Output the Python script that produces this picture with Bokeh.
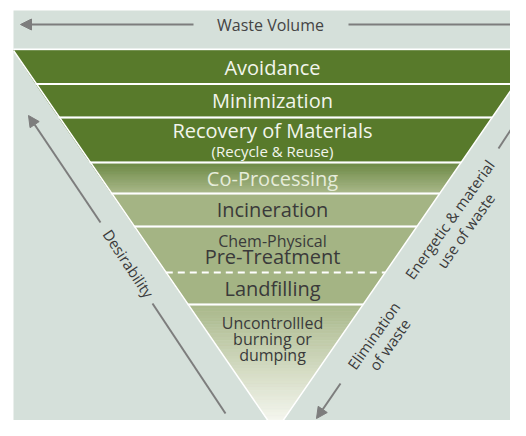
import numpy as np
from bokeh.plotting import figure
from bokeh.models import Range1d, Arrow, NormalHead
from bokeh.core.properties import value
from bokeh.embed import file_html
from bokeh.resources import INLINE

# ---- data ----
band_names = ["Avoidance", "Minimization", "Recovery of Materials", "Co-Processing",
              "Incineration", "Chem-Physical Pre-Treatment", "Landfilling",
              "Uncontrollled burning or dumping"]
band_top = [50, 84, 118, 163, 194, 227, 272, 305]
band_bottom = [83, 116, 161, 192, 225, 272, 303, 431]
band_color_top = ["#587a2b", "#587a2b", "#587a2b", "#6c8943", "#a4b484", "#a4b484", "#a4b484", "#a9b88a"]
band_color_bottom = ["#587a2b", "#587a2b", "#587a2b", "#a7b687", "#a4b484", "#a4b484", "#a4b484", "#fcfcf8"]

label_text = ["Avoidance", "Minimization", "Recovery of Materials", "(Recycle & Reuse)",
              "Co-Processing", "Incineration", "Chem-Physical", "Pre-Treatment",
              "Landfilling", "Uncontrollled", "burning or", "dumping"]
label_y = [67, 100, 130, 150, 178, 209, 240, 256, 288, 322, 338, 354]
label_size = ["20px", "20px", "20px", "15px", "20px", "20px", "16px", "20px", "20px", "16px", "16px", "16px"]
label_color = ["#f2f5ec", "#f2f5ec", "#f2f5ec", "#f2f5ec", "#e6ecda", "#3a3a3a", "#3a3a3a",
               "#3a3a3a", "#3a3a3a", "#3a3a3a", "#3a3a3a", "#3a3a3a"]

APEX_X, APEX_Y, K = 275.0, 431.0, 0.69
BG = "#d5e0da"
CX = 272


def lx(y):
    return max(13.0, APEX_X - (APEX_Y - y) * K)


def rx(y):
    return APEX_X + (APEX_Y - y) * K


def hex2rgb(h):
    h = h.lstrip("#")
    return np.array([int(h[i:i + 2], 16) for i in (0, 2, 4)], dtype=float)


def rgb2hex(c):
    return "#%02x%02x%02x" % tuple(int(round(v)) for v in c)


p = figure(width=510, height=420, output_backend="svg", toolbar_location=None,
           x_range=Range1d(0, 510), y_range=Range1d(420, 0),
           min_border=0, outline_line_color=None, background_fill_color="white",
           border_fill_color="white")
p.axis.visible = False
p.grid.visible = False

# background panel
p.quad(left=[13], right=[540], top=[10], bottom=[450], fill_color=BG, line_color=None)
# white rule under the header
p.line(x=[13, 540], y=[49, 49], line_color="white", line_width=2)

# bands (gradients as thin strips)
xs, ys, cols = [], [], []
for t, b, ct, cb in zip(band_top, band_bottom, band_color_top, band_color_bottom):
    n = 1 if ct == cb else 40
    c0, c1 = hex2rgb(ct), hex2rgb(cb)
    edges = np.linspace(t, b, n + 1)
    for i in range(n):
        y0, y1 = edges[i], edges[i + 1]
        xs.append([lx(y0), rx(y0), rx(y1), lx(y1)])
        ys.append([y0, y0, y1, y1])
        f = (i + 0.5) / n
        cols.append(rgb2hex(c0 + (c1 - c0) * f))
p.patches(xs=xs, ys=ys, fill_color=cols, line_color=cols, line_width=0.6)

# triangle edges (white rim)
p.line(x=[lx(50), APEX_X, rx(50)], y=[50, APEX_Y, 50], line_color="white", line_width=1.5)

# separators
for i in range(len(band_top) - 1):
    if band_bottom[i] == band_top[i + 1]:
        ysep = band_bottom[i]
        p.line(x=[lx(ysep), rx(ysep)], y=[ysep, ysep], line_color="white",
               line_width=2, line_dash="7 5")
    else:
        ysep = (band_bottom[i] + band_top[i + 1]) / 2
        p.line(x=[lx(ysep), rx(ysep)], y=[ysep, ysep], line_color="white", line_width=2.2)

# band labels
FONT = value("Open Sans")
for txt, y, s, c in zip(label_text, label_y, label_size, label_color):
    p.text(x=[CX], y=[y], text=[txt], text_font=FONT, text_font_size=s, text_color=c,
           text_align="center", text_baseline="middle")

# header
p.text(x=[270], y=[24], text=["Waste Volume"], text_font=FONT, text_font_size="16px",
       text_color="#444444", text_align="center", text_baseline="middle")

GRAY = "#7d7d7d"


def arrow(x0, y0, x1, y1, head=True):
    if head:
        p.add_layout(Arrow(end=NormalHead(size=11, fill_color=GRAY, line_color=GRAY),
                           x_start=x0, y_start=y0, x_end=x1, y_end=y1,
                           line_color=GRAY, line_width=2))
    else:
        p.line(x=[x0, x1], y=[y0, y1], line_color=GRAY, line_width=2)


arrow(193, 24, 20, 24)
arrow(348, 24, 522, 24)
arrow(100, 222, 28, 115)
arrow(152, 303, 225, 413, head=False)
arrow(498, 148, 521, 113)
arrow(340, 383, 316, 418)

ang_l = -np.arctan2(110, 73)
ang_r = np.arctan2(118, 84)
side = dict(text_font=FONT, text_font_size="15px", text_color="#3a3a3a",
            text_align="center", text_baseline="middle")
p.text(x=[128], y=[263], text=["Desirability"], angle=[ang_l], **side)
p.text(x=[449], y=[219], text=["Energetic & material"], angle=[ang_r], **side)
p.text(x=[465], y=[230], text=["use of waste"], angle=[ang_r], **side)
p.text(x=[373], y=[335], text=["Elimination"], angle=[ang_r], **side)
p.text(x=[389], y=[344], text=["of waste"], angle=[ang_r], **side)

open("out.html", "w").write(file_html(p, INLINE))
